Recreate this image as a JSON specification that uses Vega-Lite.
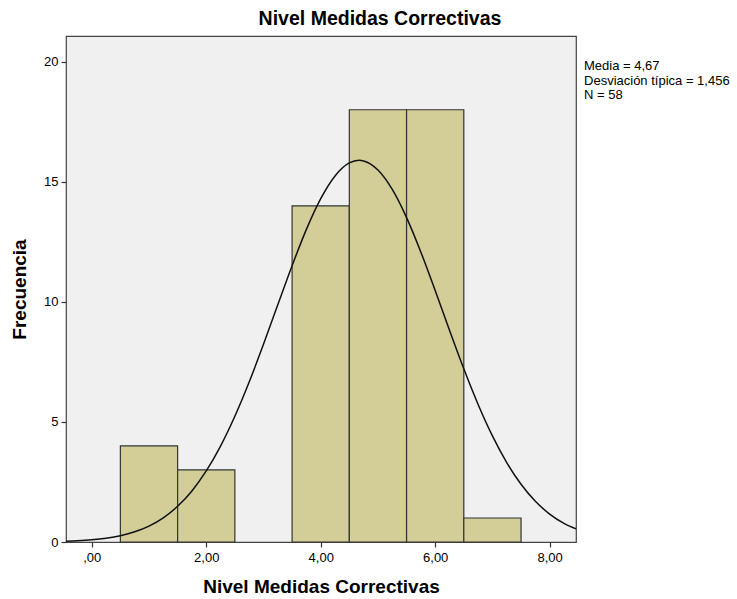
{
  "$schema": "https://vega.github.io/schema/vega-lite/v6.json",
  "autosize": {"type": "none"},
  "width": 510,
  "height": 506,
  "padding": {"left": 66, "top": 36, "right": 161, "bottom": 57},
  "background": "white",
  "title": {
    "text": "Nivel Medidas Correctivas",
    "anchor": "middle",
    "font": "Liberation Sans",
    "fontSize": 19.5,
    "fontWeight": "bold",
    "color": "#000000",
    "offset": 7,
    "dx": 59
  },
  "config": {
    "view": {"fill": "#f0f0f0", "stroke": "#444444", "strokeWidth": 1.2},
    "axis": {
      "grid": false,
      "domain": false,
      "ticks": true,
      "tickSize": 5,
      "tickColor": "#333333",
      "tickWidth": 1.2,
      "labelFont": "Liberation Sans",
      "labelFontSize": 13,
      "labelColor": "#000000",
      "titleFont": "Liberation Sans",
      "titleFontSize": 19,
      "titleFontWeight": "bold",
      "titleColor": "#000000"
    }
  },
  "datasets": {
    "bars": [
      {"bin_start": 0.5, "bin_end": 1.5, "count": 4},
      {"bin_start": 1.5, "bin_end": 2.5, "count": 3},
      {"bin_start": 3.5, "bin_end": 4.5, "count": 14},
      {"bin_start": 4.5, "bin_end": 5.5, "count": 18},
      {"bin_start": 5.5, "bin_end": 6.5, "count": 18},
      {"bin_start": 6.5, "bin_end": 7.5, "count": 1}
    ],
    "curve": [
      {"x": -0.45, "y": 0.033},
      {"x": -0.25, "y": 0.053},
      {"x": 0.0, "y": 0.093},
      {"x": 0.25, "y": 0.159},
      {"x": 0.5, "y": 0.263},
      {"x": 0.75, "y": 0.424},
      {"x": 1.0, "y": 0.663},
      {"x": 1.25, "y": 1.007},
      {"x": 1.5, "y": 1.486},
      {"x": 1.75, "y": 2.127},
      {"x": 2.0, "y": 2.958},
      {"x": 2.25, "y": 3.993},
      {"x": 2.5, "y": 5.234},
      {"x": 2.75, "y": 6.662},
      {"x": 3.0, "y": 8.232},
      {"x": 3.25, "y": 9.877},
      {"x": 3.5, "y": 11.506},
      {"x": 3.75, "y": 13.016},
      {"x": 4.0, "y": 14.295},
      {"x": 4.25, "y": 15.244},
      {"x": 4.5, "y": 15.784},
      {"x": 4.67, "y": 15.892},
      {"x": 4.75, "y": 15.868},
      {"x": 5.0, "y": 15.489},
      {"x": 5.25, "y": 14.68},
      {"x": 5.5, "y": 13.509},
      {"x": 5.75, "y": 12.069},
      {"x": 6.0, "y": 10.471},
      {"x": 6.25, "y": 8.82},
      {"x": 6.5, "y": 7.213},
      {"x": 6.75, "y": 5.728},
      {"x": 7.0, "y": 4.416},
      {"x": 7.25, "y": 3.306},
      {"x": 7.5, "y": 2.403},
      {"x": 7.75, "y": 1.696},
      {"x": 8.0, "y": 1.162},
      {"x": 8.25, "y": 0.774},
      {"x": 8.46, "y": 0.545}
    ],
    "stats": [
      {"label": ["Media = 4,67", "Desviación típica = 1,456", "N = 58"]}
    ]
  },
  "layer": [
    {
      "data": {"name": "bars"},
      "mark": {"type": "rect", "fill": "#d3ce97", "stroke": "#333333", "strokeWidth": 1.2},
      "encoding": {
        "x": {
          "field": "bin_start",
          "type": "quantitative",
          "scale": {"domain": [-0.45, 8.46], "nice": false, "zero": false},
          "axis": {
            "title": "Nivel Medidas Correctivas",
            "values": [0, 2, 4, 6, 8],
            "labelExpr": "datum.value == 0 ? ',00' : replace(format(datum.value, '.2f'), '.', ',')",
            "labelPadding": 4,
            "titlePadding": 13
          }
        },
        "x2": {"field": "bin_end"},
        "y": {
          "field": "count",
          "type": "quantitative",
          "scale": {"domain": [0, 21.07], "nice": false},
          "axis": {
            "title": "Frecuencia",
            "values": [0, 5, 10, 15, 20],
            "labelPadding": 3,
            "titlePadding": 14
          }
        },
        "y2": {"datum": 0}
      }
    },
    {
      "data": {"name": "curve"},
      "mark": {"type": "line", "color": "#111111", "strokeWidth": 1.5, "interpolate": "monotone", "clip": true},
      "encoding": {
        "x": {"field": "x", "type": "quantitative"},
        "y": {"field": "y", "type": "quantitative"}
      }
    },
    {
      "data": {"name": "stats"},
      "mark": {
        "type": "text",
        "align": "left",
        "baseline": "top",
        "font": "Liberation Sans",
        "fontSize": 13,
        "lineHeight": 14.5,
        "color": "#000000"
      },
      "encoding": {
        "x": {"datum": 8.6},
        "y": {"datum": 20.05},
        "text": {"field": "label"}
      }
    }
  ]
}
